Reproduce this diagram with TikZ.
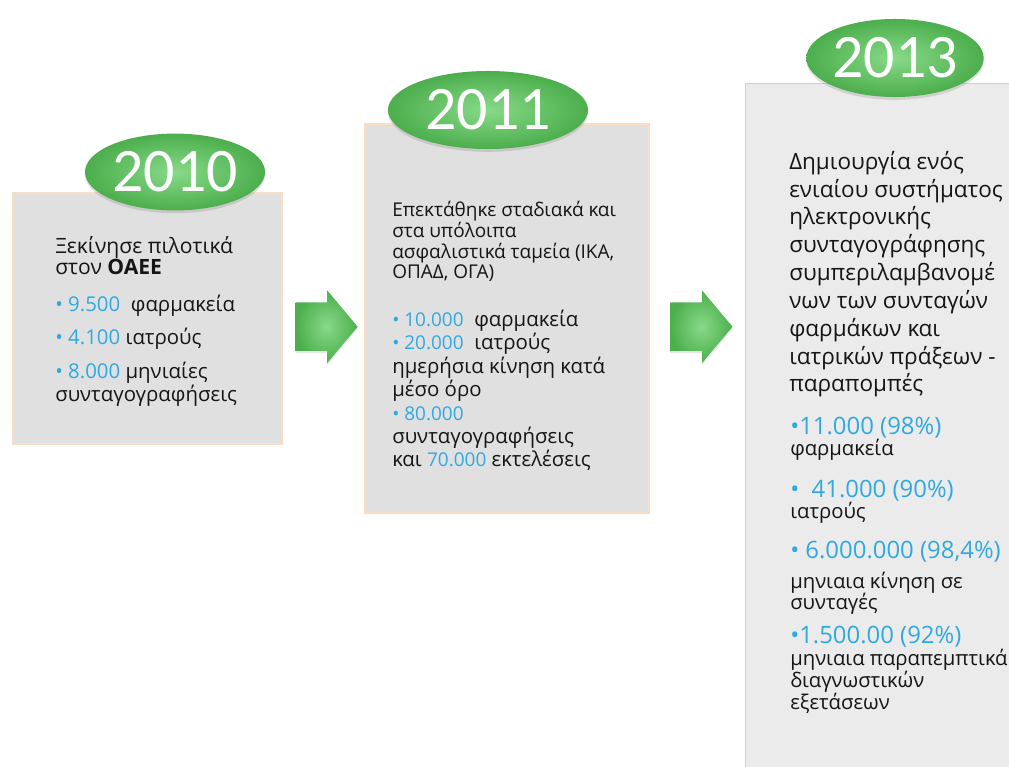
\documentclass[tikz,border=0pt]{standalone}
\usepackage{fontspec}
\setmainfont{Open Sans}
\newfontfamily\yearfont{Carlito}
\usetikzlibrary{positioning,calc,shapes.arrows,shapes.geometric,shadows}
\definecolor{boxgray}{HTML}{E0E0E0}
\definecolor{boxline}{HTML}{FBDDC4}
\definecolor{lastgray}{HTML}{EBEBEB}
\definecolor{lastline}{HTML}{D0D0D0}
\definecolor{numblue}{HTML}{2FA9E0}
\definecolor{leafdark}{HTML}{4CAE4C}
\definecolor{leaflight}{HTML}{88DA88}
\definecolor{ink}{HTML}{151515}
\tikzset{
  stage/.style={draw=boxline, line width=1.5pt, fill=boxgray, inner sep=0pt},
  year/.style={ellipse, inner sep=0pt, inner color=leaflight, outer color=leafdark,
    drop shadow={opacity=0.25, shadow xshift=0pt, shadow yshift=-2pt},
    text=white, font=\yearfont\fontsize{44}{44}\selectfont},
  go/.style={single arrow, anchor=tail, inner sep=0pt, text height=1.2cm, text depth=0pt, text width=0pt,
    minimum height=1.55cm, single arrow head extend=0.3cm, single arrow tip angle=100,
    inner color=leaflight, outer color=leafdark,
    drop shadow={opacity=0.2, shadow xshift=0pt, shadow yshift=-1.5pt}},
  txt/.style={anchor=base west, align=left, inner sep=0pt, text=ink},
}
\newcommand{\bl}[1]{{\color{numblue}#1}}

\begin{document}
\begin{tikzpicture}[x=0.025cm, y=-0.025cm]
  \useasboundingbox (0,0) rectangle (1009,767);
  \clip (0,0) rectangle (1009,767);
  % the three stages
  \node[stage, anchor=north west, minimum width=6.73cm, minimum height=6.28cm] (b1) at (12,192) {};
  \node[stage, anchor=north west, minimum width=7.1cm, minimum height=9.73cm] (b2) at (364,123) {};
  \node[stage, draw=lastline, line width=0.8pt, fill=lastgray, anchor=north west,
    minimum width=7.2cm, minimum height=17.6cm] (b3) at (745,83) {};
  % arrows between them
  \node[go] (a1) at ($(b1.east)+(12,8)$) {};
  \node[go] (a2) at ($(b2.east)+(20,8)$) {};
  % year badges
  \node[year, minimum width=4.5cm, minimum height=1.92cm] (y1) at ($(b1.north west)+(163,-20)$) {2010};
  \node[year, minimum width=5cm, minimum height=1.95cm] (y2) at ($(b2.north west)+(124,-13)$) {2011};
  \node[year, minimum width=4.25cm, minimum height=1.95cm] (y3) at ($(b3.north west)+(150,-25)$) {2013};
  % 2010 (base = last line)
  \node[txt, font=\fontsize{15}{15.6}\selectfont] (t1) at ($(b1.north west)+(43,83)$)
    {Ξεκίνησε πιλοτικά\\στον \textbf{ΟΑΕΕ}};
  \node[txt, font=\fontsize{14.5}{17}\selectfont] (l1) at ($(b1.north west)+(43,210)$)
    {\bl{• 9.500}\ \ φαρμακεία\\[6.7pt]
     \bl{• 4.100} ιατρούς\\[6.7pt]
     \bl{• 8.000} μηνιαίες\\
     συνταγογραφήσεις};
  % 2011
  \node[txt, font=\fontsize{13.5}{14.7}\selectfont] (t2) at ($(b2.north west)+(28,156)$)
    {Επεκτάθηκε σταδιακά και\\στα υπόλοιπα\\ασφαλιστικά ταμεία (ΙΚΑ,\\ΟΠΑΔ, ΟΓΑ)};
  \node[txt, font=\fontsize{14.5}{16.7}\selectfont] (l2) at ($(b2.north west)+(28,344)$)
    {\bl{\fontsize{13.5}{16.7}\selectfont• 10.000}\ \ φαρμακεία\\
     \bl{\fontsize{13.5}{16.7}\selectfont• 20.000}\ \ ιατρούς\\
     ημερήσια κίνηση κατά\\
     μέσο όρο\\
     \bl{\fontsize{13.5}{16.7}\selectfont• 80.000}\\
     συνταγογραφήσεις\\
     και \bl{\fontsize{13.5}{16.7}\selectfont 70.000} εκτελέσεις};
  % 2013
  \node[txt, font=\fontsize{16}{19.8}\selectfont] (t3) at ($(b3.north west)+(44,309)$)
    {Δημιουργία ενός\\ενιαίου συστήματος\\ηλεκτρονικής\\συνταγογράφησης\\συμπεριλαμβανομέ\\νων των συνταγών\\φαρμάκων και\\ιατρικών πράξεων -\\παραπομπές};
  \node[txt, font=\fontsize{14.4}{15.6}\selectfont] (p1) at ($(b3.north west)+(45,373)$)
    {\bl{\fontsize{17}{15.6}\selectfont•11.000 (98\%)}\\φαρμακεία};
  \node[txt, font=\fontsize{14.4}{15.6}\selectfont] (p2) at ($(b3.north west)+(45,436)$)
    {\bl{\fontsize{17}{15.6}\selectfont•\ \ 41.000 (90\%)}\\ιατρούς};
  \node[txt, font=\fontsize{14.4}{15.6}\selectfont] (p3) at ($(b3.north west)+(45,527)$)
    {\bl{\fontsize{17}{15.6}\selectfont• 6.000.000 (98,4\%)}\\[5.7pt]μηνιαια κίνηση σε\\συνταγές};
  \node[txt, font=\fontsize{14.4}{15.6}\selectfont] (p4) at ($(b3.north west)+(45,626)$)
    {\bl{\fontsize{17}{15.6}\selectfont•1.500.00 (92\%)}\\[0pt]μηνιαια παραπεμπτικά\\διαγνωστικών\\εξετάσεων};
\end{tikzpicture}
\end{document}
